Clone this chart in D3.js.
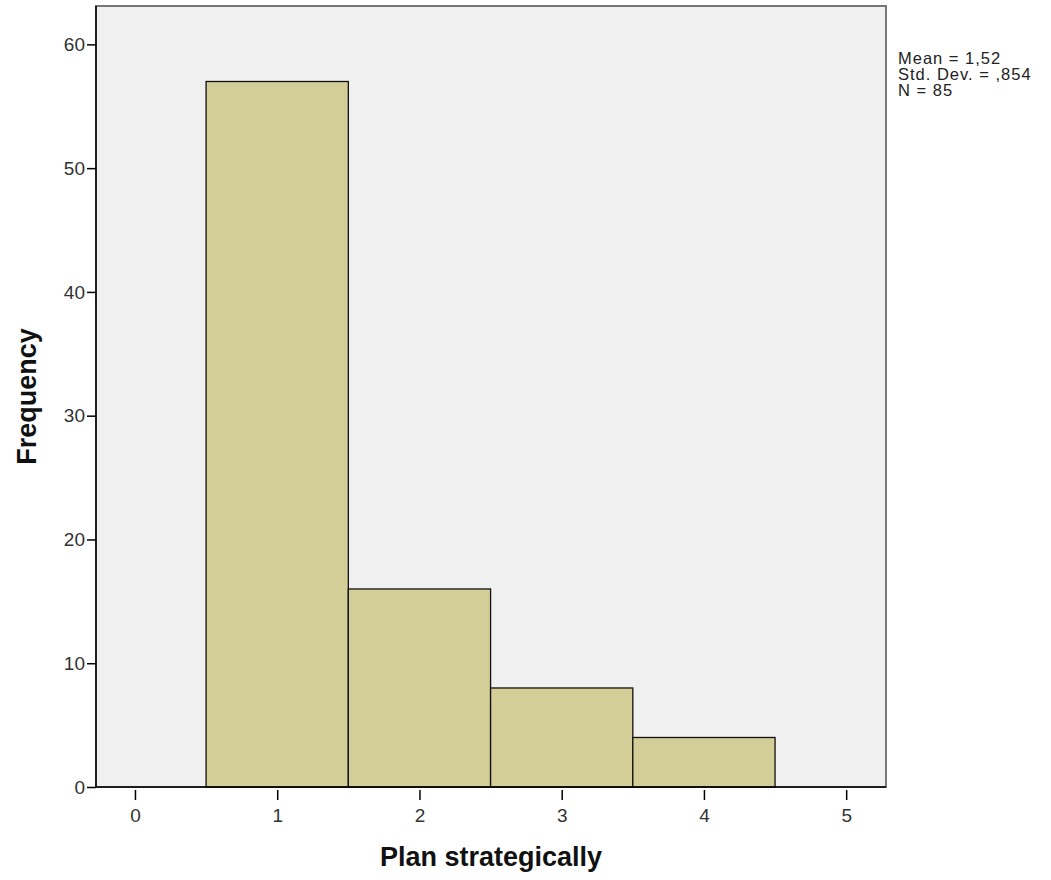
<!DOCTYPE html>
<html>
<head>
<meta charset="utf-8">
<script src="https://cdn.jsdelivr.net/npm/d3@7"></script>
<style>
body{margin:0;background:#fff;}
svg{display:block;font-family:Arial,"Liberation Sans",sans-serif;}
</style>
</head>
<body>
<svg id="chart" width="1051" height="880"></svg>
<script>
const binCenters = [1, 2, 3, 4];
const frequencies = [57, 16, 8, 4];
const xTicks = [0, 1, 2, 3, 4, 5];
const yTicks = [0, 10, 20, 30, 40, 50, 60];
const statLines = ["Mean = 1,52", "Std. Dev. = ,854", "N = 85"];
const xTitle = "Plan strategically";
const yTitle = "Frequency";

const FONT = "Arial,'Liberation Sans',sans-serif";
const svg = d3.select("#chart");
const L = 96, R = 886, T = 6, B = 787;
const x = d3.scaleLinear().domain([-0.274, 5.28]).range([L, R]);
const y = d3.scaleLinear().domain([0, 63.1]).range([B, T]);

svg.append("rect").attr("x", L).attr("y", T).attr("width", R - L).attr("height", B - T)
  .attr("fill", "#f0f0f0").attr("stroke", "#777").attr("stroke-width", 2);

svg.append("g").selectAll("rect").data(binCenters).join("rect")
  .attr("x", (d) => x(d - 0.5))
  .attr("y", (d, i) => y(frequencies[i]))
  .attr("width", (d) => x(d + 0.5) - x(d - 0.5))
  .attr("height", (d, i) => y(0) - y(frequencies[i]))
  .attr("fill", "#d3ce98").attr("stroke", "#111").attr("stroke-width", 1.3);

// axes
const yAxis = d3.axisLeft(y).tickValues(yTicks).tickFormat(d3.format("d")).tickSize(9).tickSizeOuter(0).tickPadding(2);
const gy = svg.append("g").attr("transform", `translate(${L},0)`).call(yAxis);
gy.select(".domain").remove();
gy.selectAll("line").attr("stroke", "#000").attr("stroke-width", 1.5);
gy.selectAll("text").style("font-size", "19px").style("font-family", FONT).attr("fill", "#333");

const xAxis = d3.axisBottom(x).tickValues(xTicks).tickFormat(d3.format("d")).tickSize(0).tickPadding(0);
const gx = svg.append("g").attr("transform", `translate(0,${B})`).call(xAxis);
gx.select(".domain").remove();
gx.selectAll(".tick line").remove();
gx.selectAll(".tick").append("line").attr("y1", 3).attr("y2", 13).attr("stroke", "#000").attr("stroke-width", 1.5);
gx.selectAll("text").attr("dy", null).attr("y", 35).style("font-size", "19px").style("font-family", FONT).attr("fill", "#333");
svg.append("line").attr("x1", L).attr("x2", R).attr("y1", B).attr("y2", B).attr("stroke", "#000").attr("stroke-width", 1.5);
svg.append("line").attr("x1", L).attr("x2", L).attr("y1", T).attr("y2", B).attr("stroke", "#000").attr("stroke-width", 1.5);

// titles
svg.append("text").attr("x", (L + R) / 2).attr("y", 866).attr("text-anchor", "middle")
  .style("font-size", "27px").attr("font-weight", "bold").attr("fill", "#111").text(xTitle);
svg.append("text").attr("transform", `translate(36,${(T + B) / 2}) rotate(-90)`).attr("text-anchor", "middle")
  .style("font-size", "27px").attr("font-weight", "bold").attr("fill", "#111").text(yTitle);

// stats
svg.append("g").selectAll("text").data(statLines).join("text")
  .attr("x", 898).attr("y", (d, i) => 64 + i * 16)
  .style("font-size", "16.5px").style("letter-spacing", "1px").attr("fill", "#222").text((d) => d);
</script>
</body>
</html>
